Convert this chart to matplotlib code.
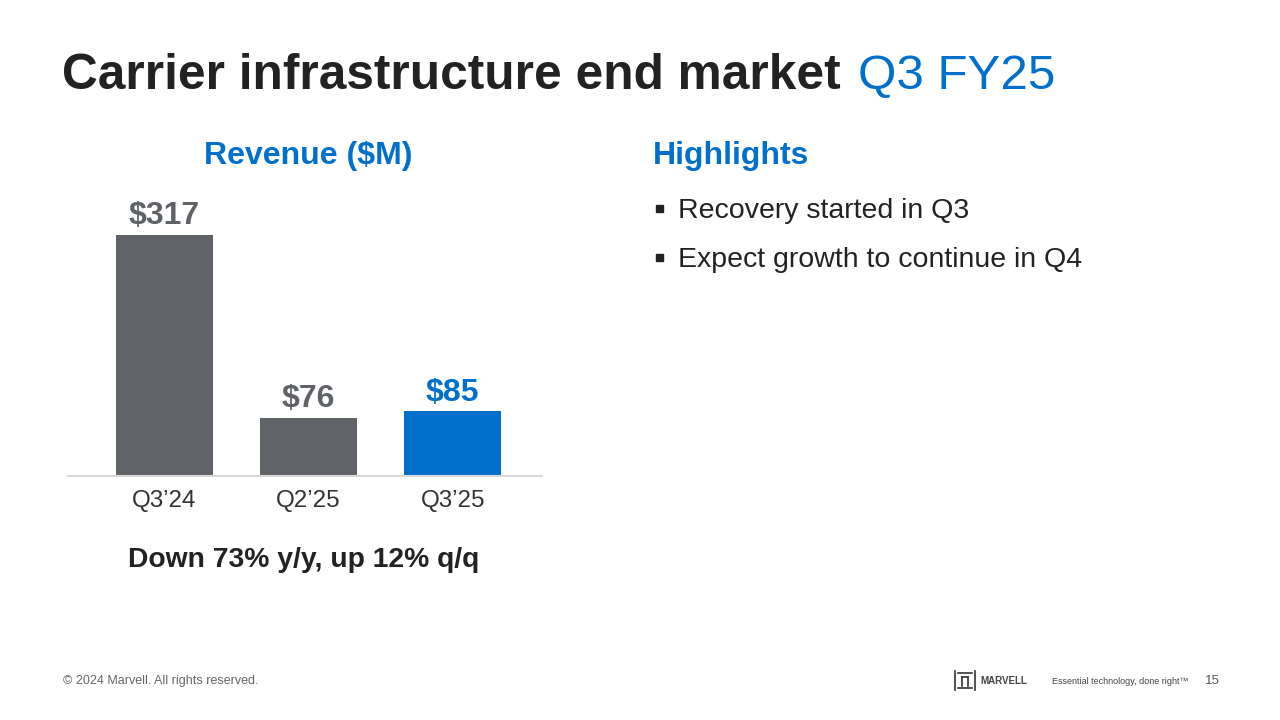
import matplotlib.pyplot as plt
from matplotlib.patches import Rectangle
from matplotlib.lines import Line2D

plt.rcParams['font.family'] = ['Liberation Sans', 'DejaVu Sans']

# data
quarters = ['Q3\u201924', 'Q2\u201925', 'Q3\u201925']
revenue = [317, 76, 85]
value_labels = ['$317', '$76', '$85']
highlights = ['Recovery started in Q3', 'Expect growth to continue in Q4']

GRAY = '#5f6266'
BLUE = '#0070cc'
DARK = '#222222'

fig = plt.figure(figsize=(12.8, 7.2), dpi=100)
fig.patch.set_facecolor('white')

def fx(px):
    return px / 1280

def fy(py):
    return 1 - py / 720

# title, blue part placed right after the black part
t1 = fig.text(fx(62), fy(76), 'Carrier infrastructure end market ', fontsize=35.7,
              fontweight='bold', color=DARK, va='center', ha='left')
renderer = fig.canvas.get_renderer()
bb = t1.get_window_extent(renderer)
fig.text(bb.x1 / 1280 + fx(4), fy(76), 'Q3 FY25', fontsize=35.5, color=BLUE,
         va='center', ha='left')

# bar chart
ax = fig.add_axes([fx(68), fy(476), fx(474), 276 / 720])
colors = [GRAY, GRAY, BLUE]
x = range(len(quarters))
ax.bar(x, revenue, width=0.674, color=colors)
for xi, v, lab, c in zip(x, revenue, value_labels, colors):
    ax.text(xi, v + 5, lab, ha='center', va='bottom', fontsize=23, fontweight='bold', color=c)
ax.set_xlim(-0.67, 2.62)
ax.set_ylim(0, 363)
ax.set_xticks(list(x))
ax.set_xticklabels(quarters, fontsize=17.4, color='#333333')
ax.tick_params(axis='x', length=0, pad=10)
ax.set_yticks([])
for s in ['top', 'right', 'left']:
    ax.spines[s].set_visible(False)
ax.spines['bottom'].set_color('#d9d9d9')
ax.spines['bottom'].set_linewidth(1.5)

fig.text(fx(308), fy(156), 'Revenue ($M)', fontsize=23, fontweight='bold',
         color=BLUE, ha='center', va='center')
fig.text(fx(304), fy(560), 'Down 73% y/y, up 12% q/q', fontsize=20.3,
         fontweight='bold', color=DARK, ha='center', va='center')

# highlights
fig.text(fx(653), fy(156), 'Highlights', fontsize=23, fontweight='bold',
         color=BLUE, ha='left', va='center')
for i, h in enumerate(highlights):
    y = 210 + i * 49
    fig.patches.append(Rectangle((fx(656), fy(y + 2)), fx(7), 7 / 720,
                                 transform=fig.transFigure, color=DARK))
    fig.text(fx(678), fy(y + 1), h, fontsize=20.5, color=DARK, ha='left', va='center')

# footer
fig.text(fx(63), fy(681), '\u00a9 2024 Marvell. All rights reserved.', fontsize=9,
         color='#666666', ha='left', va='center')
# logo mark
for xs, ys in [([955, 955], [671, 690]), ([975, 975], [671, 690]),
               ([958, 972], [673, 673]), ([958, 972], [688, 688]),
               ([962, 962], [677, 686]), ([968, 968], [677, 686]),
               ([962, 968], [677, 677])]:
    fig.lines.append(Line2D([fx(v) for v in xs], [fy(v) for v in ys],
                            transform=fig.transFigure, color='#333333', lw=1.2))
fig.text(fx(980), fy(681), 'MARVELL', fontsize=7, fontweight='bold',
         color='#444444', ha='left', va='center')
fig.text(fx(1052), fy(681), 'Essential technology, done right\u2122', fontsize=6.5,
         color='#444444', ha='left', va='center')
fig.text(fx(1205), fy(681), '15', fontsize=9.5, color='#555555', ha='left', va='center')

fig.savefig('out.png', dpi=100)
